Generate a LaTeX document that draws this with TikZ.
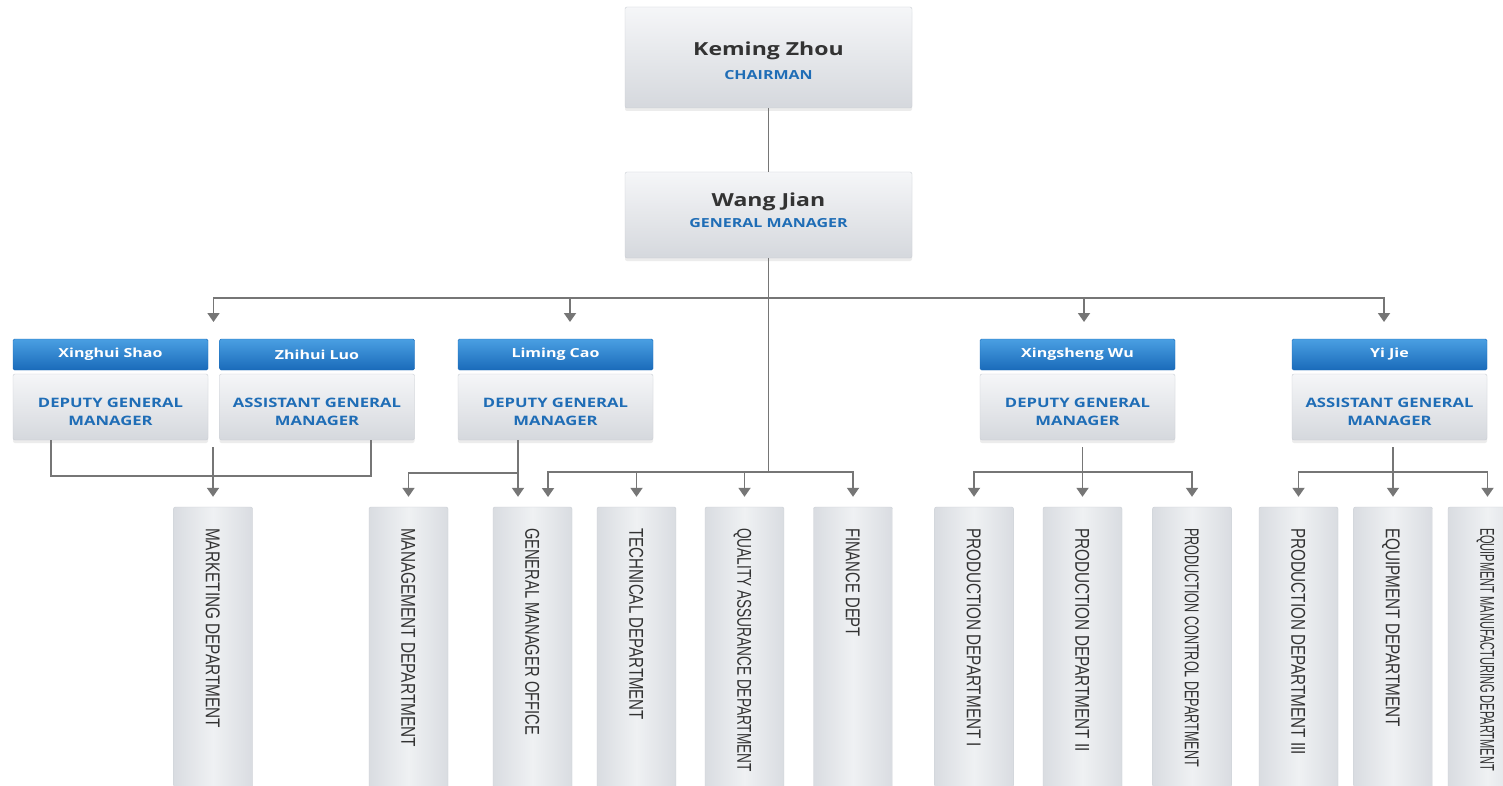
\documentclass[tikz,border=0pt]{standalone}
\usepackage{fontspec}
\usepackage{graphicx}
\usetikzlibrary{arrows.meta,shadows,calc}
\newfontfamily\boxfont[FakeStretch=1.28]{Open Sans}
\newfontfamily\deptfont{Liberation Sans}
\definecolor{linegray}{HTML}{767676}
\definecolor{roleblue}{HTML}{1F6DB6}
\definecolor{namegray}{HTML}{333333}
\definecolor{hdrtop}{HTML}{4A9FE2}
\definecolor{hdrbot}{HTML}{1A6BBA}
\definecolor{boxtop}{HTML}{F5F6F8}
\definecolor{boxbot}{HTML}{D5D8DD}
\definecolor{boxedge}{HTML}{CACED4}
\definecolor{deptmid}{HTML}{EFF1F3}
\definecolor{deptside}{HTML}{D9DCE1}
\tikzset{
  topbox/.style={rectangle, rounded corners=2pt, draw=boxedge, top color=boxtop, bottom color=boxbot, inner sep=0pt,
    drop shadow={opacity=0.15, shadow xshift=0pt, shadow yshift=-3pt}},
  hdr/.style={rectangle, rounded corners=1.5pt, top color=hdrtop, bottom color=hdrbot, draw=hdrbot, inner sep=0pt,
    minimum height=31pt, minimum width=195pt, text=white, font=\boxfont\bfseries\fontsize{12.5}{14}\selectfont},
  rolebox/.style={topbox, minimum height=66pt, minimum width=195pt},
  roletext/.style={align=center, inner sep=0pt, text=roleblue, font=\boxfont\bfseries\fontsize{13}{18.5}\selectfont},
  bigname/.style={anchor=base, inner sep=0pt, text=namegray, font=\boxfont\bfseries\fontsize{18}{20}\selectfont},
  bigrole/.style={anchor=base, inner sep=0pt, text=roleblue, font=\boxfont\bfseries\fontsize{12.5}{14}\selectfont},
  dept/.style={rectangle, rounded corners=2pt, draw=boxedge, left color=deptside, right color=deptside, middle color=deptmid,
    minimum width=79pt, minimum height=300pt, inner sep=0pt},
  deptlabel/.style={rotate=-90, anchor=west, inner sep=0pt, text=namegray, text height=14.3pt, text depth=0pt,
    font=\deptfont\fontsize{20}{20}\selectfont},
  conn/.style={draw=linegray, line width=1.8pt},
  arr/.style={conn, -{Triangle[width=12pt,length=9pt]}},
}
\newcommand{\mydept}[4]{%
  \node[dept] (#1) at (#2,657) {};
  \node[deptlabel] (#1-t) at ($(#1.north)+(0,21)$) {\resizebox{#3pt}{\height}{#4}};
}
\begin{document}
\begin{tikzpicture}[x=1pt,y=-1pt]
\clip (0,0) rectangle (1503,786);
\fill[white] (0,0) rectangle (1503,786);

% top boxes
\node[topbox, minimum width=287pt, minimum height=101pt] (ch) at (768.5,57.5) {};
\node[bigname] (ch-n) at (768.5,55.5) {Keming Zhou};
\node[bigrole] (ch-r) at (768.5,79.5) {CHAIRMAN};
\node[topbox, minimum width=287pt, minimum height=86pt] (gm) at (768.5,215) {};
\node[bigname] (gm-n) at (768.5,206.5) {Wang Jian};
\node[bigrole] (gm-r) at (768.5,227.5) {GENERAL MANAGER};

% second level
\node[hdr] (shaoH) at (110.5,354.5) {Xinghui Shao};
\node[rolebox] (shaoR) at (110.5,407) {};
\node[roletext] (shaoT) at (110.5,412) {DEPUTY GENERAL\\MANAGER};
\node[hdr] (luoH) at (317,354.5) {Zhihui Luo};
\node[rolebox] (luoR) at (317,407) {};
\node[roletext] (luoT) at (317,412) {ASSISTANT GENERAL\\MANAGER};
\node[hdr] (caoH) at (555.5,354.5) {Liming Cao};
\node[rolebox] (caoR) at (555.5,407) {};
\node[roletext] (caoT) at (555.5,412) {DEPUTY GENERAL\\MANAGER};
\node[hdr] (wuH) at (1077.5,354.5) {Xingsheng Wu};
\node[rolebox] (wuR) at (1077.5,407) {};
\node[roletext] (wuT) at (1077.5,412) {DEPUTY GENERAL\\MANAGER};
\node[hdr] (yiH) at (1389.5,354.5) {Yi Jie};
\node[rolebox] (yiR) at (1389.5,407) {};
\node[roletext] (yiT) at (1389.5,412) {ASSISTANT GENERAL\\MANAGER};

% departments
\mydept{mkt}{213}{200}{MARKETING DEPARTMENT}
\mydept{mgmt}{408.5}{219}{MANAGEMENT DEPARTMENT}
\mydept{gmo}{532.5}{207}{GENERAL MANAGER OFFICE}
\mydept{tech}{636.5}{192}{TECHNICAL DEPARTMENT}
\mydept{qa}{744.5}{244}{QUALITY ASSURANCE DEPARTMENT}
\mydept{fin}{853}{109}{FINANCE DEPT}
\mydept{p1}{974}{219}{PRODUCTION DEPARTMENT I}
\mydept{p2}{1082.5}{224}{PRODUCTION DEPARTMENT II}
\mydept{pc}{1192}{239}{PRODUCTION CONTROL DEPARTMENT}
\mydept{p3}{1298.5}{227}{PRODUCTION DEPARTMENT III}
\mydept{eq}{1393}{199}{EQUIPMENT DEPARTMENT}
\mydept{em}{1487.5}{243}{EQUIPMENT MANUFACTURING DEPARTMENT}

% coordinates
\coordinate (ub) at (768.5,298);
\coordinate (lb) at (768.5,472);
\coordinate (gapA) at (213.5,339);
\coordinate (caoIn) at (570,339);
\coordinate (wuIn) at (1084,339);
\coordinate (yiIn) at (1384,339);
\coordinate (shaoOut) at (51,440);
\coordinate (luoOut) at (371,440);
\coordinate (mktTop) at (213,447);
\coordinate (caoOut) at (518,440);
\coordinate (caoBus) at (518,473);
\coordinate (gmoIn) at (548,507);
\coordinate (wuOut) at (1082.5,447);
\coordinate (wuBus) at (1082.5,472);
\coordinate (yiOut) at (1393,447);
\coordinate (yiBus) at (1393,472);

% connectors
\draw[conn] (ch.south) -- (gm.north);
\draw[conn] (gm.south) -- (lb);
\draw[arr, shorten >=17pt] (ub) -| (gapA);
\draw[arr, shorten >=17pt] (ub) -| (yiIn);
\draw[arr, shorten >=17pt] (ub -| caoIn) -- (caoIn);
\draw[arr, shorten >=17pt] (ub -| wuIn) -- (wuIn);

\draw[conn] (shaoOut) -- ++(0,36) -| (luoOut);
\draw[arr, shorten >=10pt] (mktTop) -- (mkt.north);

\draw[arr, shorten >=10pt] (caoOut) -- (caoOut |- gmo.north);
\draw[arr, shorten >=10pt] (caoBus) -| (mgmt.north);

\draw[arr, shorten >=10pt] (lb) -| (gmoIn);
\draw[arr, shorten >=10pt] (lb) -| (fin.north);
\draw[arr, shorten >=10pt] (lb -| tech.north) -- (tech.north);
\draw[arr, shorten >=10pt] (lb -| qa.north) -- (qa.north);

\draw[arr, shorten >=10pt] (wuOut) -- (p2.north);
\draw[arr, shorten >=10pt] (wuBus) -| (p1.north);
\draw[arr, shorten >=10pt] (wuBus) -| (pc.north);

\draw[arr, shorten >=10pt] (yiOut) -- (eq.north);
\draw[arr, shorten >=10pt] (yiBus) -| (p3.north);
\draw[arr, shorten >=10pt] (yiBus) -| (em.north);
\end{tikzpicture}
\end{document}
